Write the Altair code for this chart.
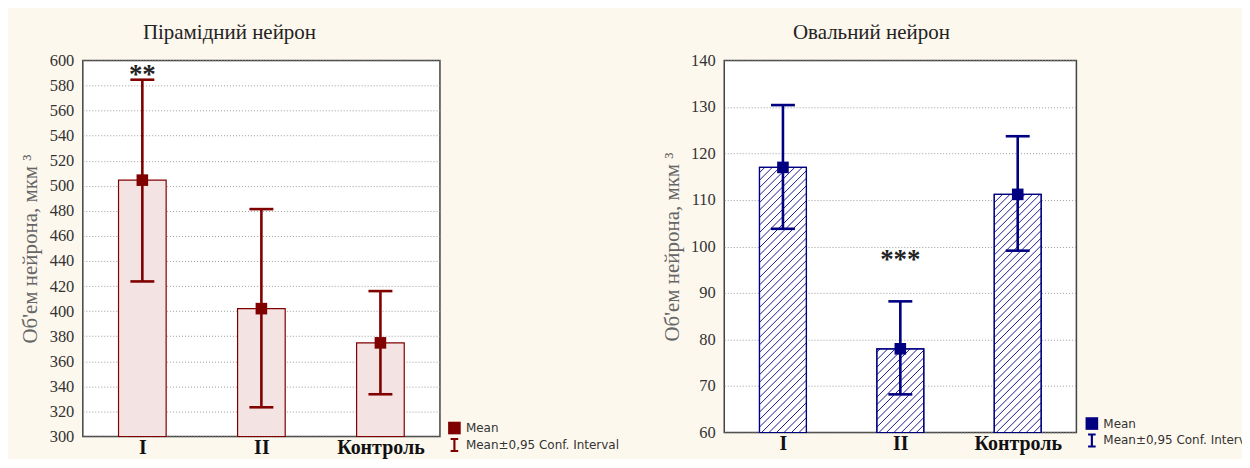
import altair as alt
import pandas as pd

# ---- data ----
groups = ["I", "II", "Контроль"]

pyr_mean = [504.5, 402.0, 374.7]
pyr_lo = [423.7, 323.3, 333.7]
pyr_hi = [584.6, 481.4, 416.0]
pyr_star_text = ["**"]
pyr_star_group = [1]
pyr_star_value = [591.0]

oval_mean = [117.0, 78.0, 111.2]
oval_lo = [103.8, 68.2, 99.1]
oval_hi = [130.4, 88.2, 123.7]
oval_star_text = ["***"]
oval_star_group = [2]
oval_star_value = [97.7]

legend_items = ["Mean", "Mean±0,95 Conf. Interval"]

SERIF = "Liberation Serif"
SANS = "DejaVu Sans"
# filled "I" glyph (cap / stem / cap) used as the legend symbol of the CI
IBAR = ("M-0.6,-1.1L0.6,-1.1L0.6,-0.8L0.17,-0.8L0.17,0.8L0.6,0.8L0.6,1.1"
        "L-0.6,1.1L-0.6,0.8L-0.17,0.8L-0.17,-0.8L-0.6,-0.8Z")


def panel(title, means, los, his, ymin, ymax, ystep, color, fill, pattern,
          star_text, star_group, star_value, W, H, title_dx, lx, ly):
    pos = [1, 2, 3]
    df = pd.DataFrame({
        "pos": pos, "group": groups, "mean": means, "lo": los, "hi": his,
        "base": [ymin] * 3, "kind": ["Mean"] * 3,
    })
    df["left"] = df["pos"] - 0.2
    df["right"] = df["pos"] + 0.2

    xscale = alt.Scale(domain=[0.5, 3.5], nice=False, zero=False)
    yscale = alt.Scale(domain=[ymin, ymax], nice=False, zero=False)
    xaxis = alt.Axis(
        values=pos, title=None, grid=False, ticks=False, domain=False,
        labelExpr="['I','II','Контроль'][datum.value-1]",
        labelFont=SERIF, labelFontSize=20, labelFontWeight="bold",
        labelColor="#111111", labelPadding=1, labelOverlap=False,
    )
    yaxis = alt.Axis(
        values=list(range(ymin, ymax + 1, ystep)), labelOverlap=False,
        title="Об'ем нейрона, мкм ³", titleFont=SERIF, titleFontSize=21,
        titleFontWeight="normal", titleColor="#666666", titlePadding=8.5,
        labelFont=SERIF, labelFontSize=16.5, labelColor="#333333",
        labelPadding=9, ticks=False, domain=False,
        grid=True, gridColor="#9a9a9a", gridDash=[1, 2], gridWidth=1,
    )

    def X(f):
        return alt.X(f, scale=xscale, axis=xaxis)

    def Y(f):
        return alt.Y(f, scale=yscale, axis=yaxis)

    base = alt.Chart(df)
    bars = base.mark_rect(fill=fill, stroke=color, strokeWidth=1.2).encode(
        x=X("left:Q"), x2="right:Q", y=Y("mean:Q"), y2="base:Q",
    )
    layers = [bars]

    if pattern == "hatch":
        pxu = W / 3.0
        pyu = H / float(ymax - ymin)
        segs = []
        for i in range(3):
            w = 0.4 * pxu
            h = (means[i] - ymin) * pyu
            c = -w
            while c < h:
                x0 = max(0.0, -c)
                x1 = min(w, h - c)
                if x1 > x0:
                    segs.append({
                        "hx": df["left"][i] + x0 / pxu,
                        "hx2": df["left"][i] + x1 / pxu,
                        "hy": ymin + (x0 + c) / pyu,
                        "hy2": ymin + (x1 + c) / pyu,
                    })
                c += 7.5
        hdf = pd.DataFrame(segs)
        hatch = alt.Chart(hdf).mark_rule(color=color, strokeWidth=0.9).encode(
            x=X("hx:Q"), x2="hx2:Q", y=Y("hy:Q"), y2="hy2:Q",
        )
        outline = base.mark_rect(fill=None, fillOpacity=0, stroke=color, strokeWidth=1.2).encode(
            x=X("left:Q"), x2="right:Q", y=Y("mean:Q"), y2="base:Q",
        )
        layers += [hatch, outline]

    err = base.mark_rule(color=color, strokeWidth=2.6).encode(
        x=X("pos:Q"), y=Y("lo:Q"), y2="hi:Q"
    )
    cap_hi = base.mark_rule(color=color, strokeWidth=2.6, xOffset=-12, x2Offset=12).encode(
        x=X("pos:Q"), x2="pos:Q", y=Y("hi:Q")
    )
    cap_lo = base.mark_rule(color=color, strokeWidth=2.6, xOffset=-12, x2Offset=12).encode(
        x=X("pos:Q"), x2="pos:Q", y=Y("lo:Q")
    )
    pts = base.mark_point(filled=True, size=135, opacity=1, color=color).encode(
        x=X("pos:Q"),
        y=Y("mean:Q"),
        shape=alt.Shape(
            "kind:N",
            scale=alt.Scale(domain=legend_items, range=["square", IBAR]),
            legend=alt.Legend(
                title=None, orient="none", legendX=lx, legendY=ly,
                labelFont=SANS, labelFontSize=12, labelColor="#333333",
                symbolFillColor=color, symbolStrokeColor=color,
                symbolStrokeWidth=0, symbolSize=160, rowPadding=3,
                labelOffset=5, padding=0, labelLimit=400,
            ),
        ),
    )
    sdf = pd.DataFrame({"t": star_text, "g": star_group, "v": star_value})
    stars = alt.Chart(sdf).mark_text(
        font=SERIF, fontSize=27, fontWeight="bold", color="#222222",
        baseline="middle", dy=3
    ).encode(
        x=X("g:Q"), y=Y("v:Q"), text="t:N"
    )
    layers += [err, cap_hi, cap_lo, pts, stars]

    return alt.layer(*layers).properties(
        width=W, height=H,
        title=alt.TitleParams(
            title, font=SERIF, fontSize=21, fontWeight="normal",
            color="#222222", anchor="middle", dx=title_dx, offset=9,
        ),
    )


left = panel("Пірамідний нейрон", pyr_mean, pyr_lo, pyr_hi, 300, 600, 20,
             "#800000", "#f4e3e3", "dots",
             pyr_star_text, pyr_star_group, pyr_star_value,
             358, 377, -32, 366, 362)
right = panel("Овальний нейрон", oval_mean, oval_lo, oval_hi, 60, 140, 10,
              "#000080", "#ffffff", "hatch",
              oval_star_text, oval_star_group, oval_star_value,
              353, 373, -29, 362, 357.5)

chart = alt.hconcat(left, right, spacing=40).resolve_scale(
    x="independent", y="independent", shape="independent"
).properties(
    background="#fdf8ee",
    padding={"left": 11, "top": 13, "right": -16, "bottom": 0},
).configure_view(
    fill="white", stroke="#444444", strokeWidth=1.5
).configure_axis(
    labelOverlap=False
)

chart.save("out.html", embed_options={"renderer": "svg", "actions": False})
